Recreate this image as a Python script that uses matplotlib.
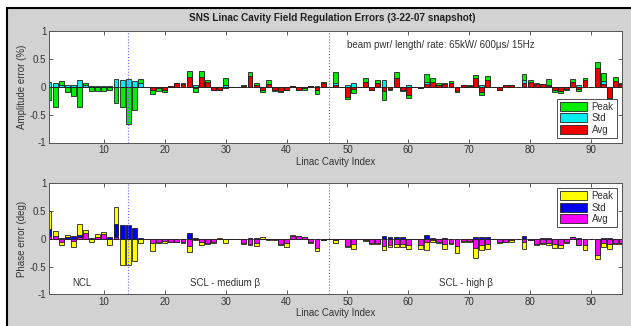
import numpy as np
import matplotlib
matplotlib.use('Agg')
import matplotlib.pyplot as plt
from matplotlib.patches import Rectangle
from matplotlib.lines import Line2D

plt.rcParams['font.family'] = ['Liberation Sans', 'DejaVu Sans']

cavity = np.arange(1, 96)

# amplitude errors (%), cavities 1..95
peak_amp = [
    -0.24, -0.36, 0.11, -0.10, -0.16, -0.36, 0.06, -0.07, -0.08, -0.08,
    -0.06, -0.30, -0.36, -0.67, -0.41, 0.14, 0.00, -0.13, -0.07, -0.09,
    0.02, 0.07, 0.06, 0.29, -0.10, 0.28, 0.13, -0.05, -0.06, 0.15,
    0.00, 0.00, 0.03, 0.26, 0.07, -0.10, 0.12, -0.07, -0.10, -0.05,
    0.02, -0.06, -0.06, 0.02, -0.13, 0.08, 0.00, 0.27, 0.00, -0.22,
    -0.12, 0.00, 0.15, -0.06, 0.13, -0.24, -0.06, 0.26, -0.07, -0.20,
    0.00, -0.02, 0.23, 0.16, 0.06, 0.06, 0.11, -0.10, 0.04, 0.03,
    0.21, -0.14, 0.20, 0.00, -0.05, 0.04, 0.04, 0.00, 0.23, 0.13,
    0.06, 0.05, 0.14, -0.09, -0.12, -0.06, 0.14, -0.08, 0.16, 0.00,
    0.44, 0.24, -0.23, 0.17, 0.07]
std_amp = [
    0.09, 0.06, 0.03, 0.04, 0.03, 0.12, 0.03, 0.02, 0.02, 0.02,
    0.02, 0.14, 0.12, 0.14, 0.10, 0.06, 0.00, 0.00, 0.00, 0.00,
    0.00, 0.00, 0.00, 0.00, 0.04, 0.00, 0.00, 0.00, 0.00, 0.04,
    0.00, 0.00, 0.00, 0.00, 0.00, 0.00, 0.00, 0.00, 0.00, 0.00,
    0.00, 0.00, 0.00, 0.00, 0.02, 0.00, 0.00, 0.06, 0.00, 0.03,
    0.07, 0.00, 0.00, 0.00, 0.00, 0.13, 0.00, 0.00, 0.00, 0.03,
    0.00, 0.00, 0.08, 0.00, 0.00, 0.00, 0.00, 0.00, 0.00, 0.00,
    0.00, 0.03, 0.00, 0.00, 0.00, 0.00, 0.00, 0.00, 0.12, 0.00,
    0.00, 0.00, 0.04, 0.00, 0.00, 0.00, 0.00, 0.04, 0.00, 0.00,
    0.00, 0.10, 0.00, 0.00, 0.00]
avg_amp = [
    0.00, 0.00, 0.00, 0.00, 0.00, 0.00, 0.00, 0.00, 0.00, 0.00,
    0.00, 0.00, 0.00, 0.00, 0.00, 0.00, 0.00, -0.06, -0.03, -0.05,
    0.02, 0.06, 0.05, 0.18, -0.03, 0.18, 0.08, -0.05, -0.05, -0.03,
    0.00, 0.00, 0.02, 0.20, 0.04, -0.06, 0.05, -0.06, -0.08, -0.05,
    0.02, -0.06, -0.03, 0.01, -0.06, 0.07, 0.00, 0.03, 0.00, -0.18,
    -0.04, 0.00, 0.08, -0.05, 0.07, -0.07, -0.04, 0.15, -0.05, -0.14,
    0.00, -0.02, 0.05, 0.09, 0.04, 0.05, 0.06, -0.08, 0.03, 0.02,
    0.15, -0.10, 0.12, 0.00, -0.05, 0.03, 0.03, 0.00, 0.06, 0.08,
    0.05, 0.05, 0.02, -0.06, -0.07, -0.04, 0.09, -0.04, 0.12, 0.00,
    0.33, 0.05, -0.21, 0.10, 0.05]

# phase errors (deg)
peak_ph = [
    0.50, 0.14, -0.12, 0.06, -0.15, 0.26, 0.15, -0.06, 0.08, 0.13,
    -0.11, 0.58, -0.48, -0.48, -0.40, -0.07, 0.00, -0.22, -0.08, -0.07,
    -0.05, -0.05, -0.07, -0.23, -0.03, -0.11, -0.09, -0.07, 0.02, -0.08,
    0.00, 0.00, -0.10, -0.12, -0.13, 0.03, -0.03, -0.03, -0.12, -0.14,
    0.06, 0.05, 0.04, -0.08, -0.22, -0.02, 0.00, -0.08, 0.00, -0.14,
    -0.19, 0.00, -0.04, -0.10, -0.10, -0.20, -0.15, -0.15, -0.15, -0.18,
    0.00, -0.19, -0.20, -0.05, -0.07, -0.18, -0.10, -0.25, -0.06, -0.05,
    -0.35, -0.20, -0.18, 0.00, -0.08, -0.06, -0.05, 0.00, -0.19, -0.02,
    -0.12, -0.10, -0.12, -0.17, -0.17, -0.08, 0.04, -0.12, -0.20, 0.00,
    -0.37, -0.14, -0.18, -0.10, -0.10]
std_ph = [
    0.17, 0.03, 0.02, 0.03, 0.05, 0.06, 0.03, 0.02, 0.02, 0.02,
    0.04, 0.27, 0.25, 0.25, 0.19, 0.02, 0.00, 0.00, 0.00, 0.00,
    0.00, 0.00, 0.00, 0.10, 0.02, 0.00, 0.00, 0.00, 0.00, 0.00,
    0.00, 0.00, 0.00, 0.02, 0.01, 0.00, 0.00, 0.00, 0.00, 0.00,
    0.00, 0.00, 0.00, 0.00, 0.00, 0.00, 0.00, 0.00, 0.00, 0.00,
    0.00, 0.00, 0.00, 0.00, 0.00, 0.05, 0.03, 0.03, 0.03, 0.00,
    0.00, 0.00, 0.06, 0.02, 0.00, 0.02, 0.00, 0.00, 0.00, 0.00,
    0.03, 0.03, 0.03, 0.00, 0.00, 0.00, 0.00, 0.00, 0.05, 0.00,
    0.00, 0.02, 0.02, 0.00, 0.00, 0.00, 0.00, 0.02, 0.00, 0.00,
    0.00, 0.02, 0.02, 0.00, 0.00]
avg_ph = [
    0.05, 0.05, -0.05, 0.00, -0.04, 0.03, 0.10, 0.00, 0.03, 0.08,
    0.00, 0.04, 0.00, 0.00, 0.00, 0.00, 0.00, -0.07, -0.06, -0.04,
    -0.05, -0.05, -0.06, -0.13, 0.00, -0.05, -0.07, -0.06, 0.00, 0.00,
    0.00, 0.00, -0.07, -0.10, -0.07, 0.00, 0.00, 0.00, -0.09, -0.08,
    0.05, 0.05, 0.03, -0.05, -0.17, -0.02, 0.00, -0.03, 0.00, -0.13,
    -0.10, 0.00, -0.02, -0.07, -0.08, -0.13, -0.12, -0.10, -0.10, -0.12,
    0.00, -0.12, -0.05, -0.03, -0.06, -0.10, -0.08, -0.13, -0.04, -0.04,
    -0.17, -0.12, -0.10, 0.00, -0.06, -0.05, -0.03, 0.00, -0.06, -0.02,
    -0.10, -0.08, -0.08, -0.10, -0.12, -0.05, 0.04, -0.12, -0.12, 0.00,
    -0.30, -0.08, -0.10, -0.07, -0.08]

section_edges = [14, 47]
txt = '#333333'

W, H = 631, 326
fig = plt.figure(figsize=(W / 100, H / 100), dpi=100)
fig.patch.set_facecolor('white')
fig.patches.append(Rectangle((7 / W, 0), 1, 1 - 8 / H, transform=fig.transFigure,
                             facecolor='#d2d2d2', edgecolor='none', zorder=-10))
fig.lines.append(Line2D([7 / W, 7 / W], [0, 1 - 8 / H], transform=fig.transFigure,
                        color='black', lw=1.5))
fig.lines.append(Line2D([7 / W, 1], [1 - 8 / H, 1 - 8 / H], transform=fig.transFigure,
                        color='black', lw=1.5))

fig.text(0.527, 1 - 18 / H, 'SNS Linac Cavity Field Regulation Errors (3-22-07 snapshot)',
         ha='center', va='center', fontsize=7.2, fontweight='bold', color='#222222')


def panel(rect, peak, std, avg, colors, ylabel, legloc):
    ax = fig.add_axes(rect)
    ax.set_facecolor('white')
    for vals, c, lab in zip([peak, std, avg], colors, ['Peak', 'Std', 'Avg']):
        ax.bar(cavity, vals, width=0.8, color=c, edgecolor='#222222',
               linewidth=0.6, label=lab, zorder=2)
    ax.axhline(0, color='#444444', lw=0.6, zorder=1)
    for xe in section_edges:
        ax.axvline(xe, color='#6a6aff', lw=0.8, ls=':', zorder=3)
    ax.set_xlim(1, 95)
    ax.set_ylim(-1, 1)
    ax.set_xticks([10, 20, 30, 40, 50, 60, 70, 80, 90])
    ax.set_yticks([-1, -0.5, 0, 0.5, 1])
    ax.set_yticklabels(['-1', '-0.5', '0', '0.5', '1'])
    ax.tick_params(direction='in', length=3, width=0.6, top=True, right=True,
                   labelsize=7, labelcolor=txt, color='#444444', pad=2)
    for s in ax.spines.values():
        s.set_color('#555555')
        s.set_linewidth(0.7)
    ax.set_xlabel('Linac Cavity Index', fontsize=7, color=txt, labelpad=1)
    ax.set_ylabel(ylabel, fontsize=7, color=txt, labelpad=2)
    leg = ax.legend(loc=legloc, fontsize=7, fancybox=False, framealpha=1,
                    edgecolor='#333333', handlelength=2.8, handleheight=1.05,
                    handletextpad=0.5, labelspacing=0.15, borderpad=0.3,
                    borderaxespad=0.5)
    leg.get_frame().set_linewidth(0.6)
    for t in leg.get_texts():
        t.set_color(txt)
    return ax


ax1 = panel([49 / W, 1 - 142.5 / H, 572.5 / W, 111.5 / H], peak_amp, std_amp, avg_amp,
            ['#00ee00', '#00eeee', '#ee0000'], 'Amplitude error (%)', 'lower right')
ax1.text(50, 0.74, 'beam pwr/ length/ rate: 65kW/ 600\u03bcs/ 15Hz',
         fontsize=7, color=txt, va='center', ha='left')

ax2 = panel([49 / W, 1 - 294.3 / H, 572.5 / W, 111 / H], peak_ph, std_ph, avg_ph,
            ['#ffff00', '#0000ee', '#ff00ff'], 'Phase error (deg)', 'upper right')
ax2.text(6.4, -0.8, 'NCL', fontsize=7, color=txt, ha='center', va='center')
ax2.text(29.9, -0.8, 'SCL - medium \u03b2', fontsize=7, color=txt, ha='center', va='center')
ax2.text(69.4, -0.8, 'SCL - high \u03b2', fontsize=7, color=txt, ha='center', va='center')

fig.savefig('out.png', dpi=100, facecolor=fig.get_facecolor())
